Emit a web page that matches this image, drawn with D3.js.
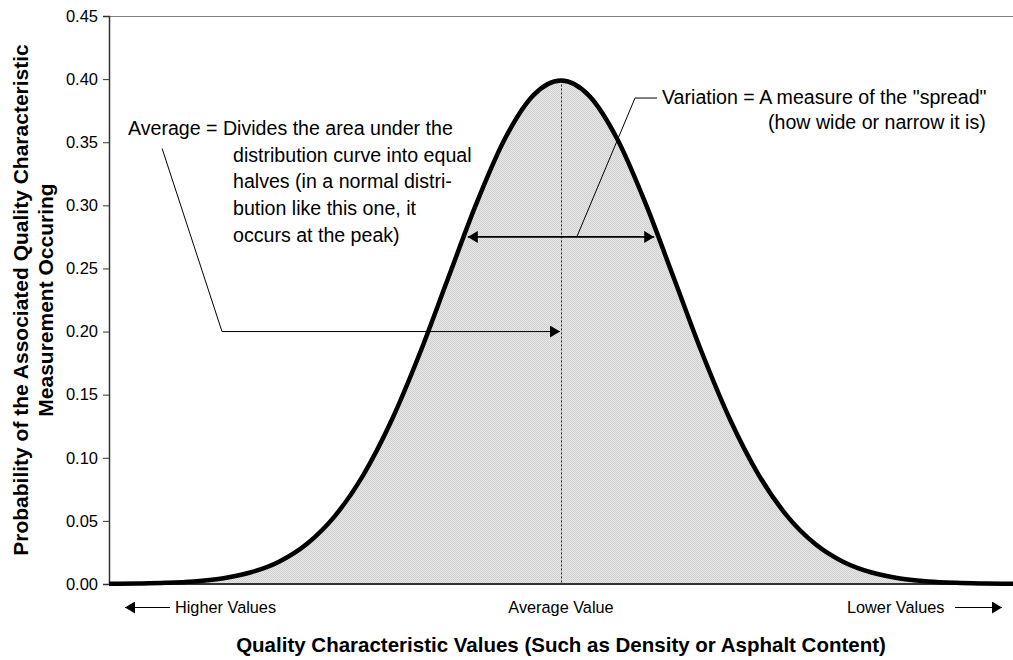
<!DOCTYPE html>
<html>
<head>
<meta charset="utf-8">
<script src="https://cdn.jsdelivr.net/npm/d3@7"></script>
<style>
  body { margin: 0; background: #fff; }
  svg { display: block; font-family: "Liberation Sans", Arial, sans-serif; }
</style>
</head>
<body>
<svg width="1013" height="660"></svg>
<script>
// curve, x in standard deviations from the average
var zPos = [-4, -3.75, -3.5, -3.25, -3, -2.75, -2.5, -2.25, -2, -1.75, -1.5, -1.25, -1, -0.75, -0.5, -0.25,
            0, 0.25, 0.5, 0.75, 1, 1.25, 1.5, 1.75, 2, 2.25, 2.5, 2.75, 3, 3.25, 3.5, 3.75, 4];
var density = [0.0001, 0.0004, 0.0009, 0.0020, 0.0044, 0.0091, 0.0175, 0.0317, 0.0540, 0.0863, 0.1295, 0.1826,
               0.2420, 0.3011, 0.3521, 0.3867, 0.3989, 0.3867, 0.3521, 0.3011, 0.2420, 0.1826, 0.1295, 0.0863,
               0.0540, 0.0317, 0.0175, 0.0091, 0.0044, 0.0020, 0.0009, 0.0004, 0.0001];
var yTicks = [0, 0.05, 0.10, 0.15, 0.20, 0.25, 0.30, 0.35, 0.40, 0.45];

var avgText = ["Average = Divides the area under the", "distribution curve into equal",
               "halves (in a normal distri-", "bution like this one, it", "occurs at the peak)"];
var varText = ["Variation = A measure of the \"spread\"", "(how wide or narrow it is)"];
var yTitle = ["Probability of the Associated Quality Characteristic", "Measurement Occuring"];
var xTitle = "Quality Characteristic Values (Such as Density or Asphalt Content)";
var bottomLabels = ["Higher Values", "Average Value", "Lower Values"];

var svg = d3.select("svg");
var plotL = 109, plotR = 1013, plotT = 16, plotB = 584;

var x = d3.scaleLinear().domain([-4, 4]).range([plotL, plotR]);
var y = d3.scaleLinear().domain([0, 0.45]).range([plotB, plotT]);

var pts = zPos.map((z, i) => ({z: z, p: density[i]}));

// checker fill like the original
var defs = svg.append("defs");
var pat = defs.append("pattern").attr("id", "dots").attr("width", 2).attr("height", 2)
    .attr("patternUnits", "userSpaceOnUse");
pat.append("rect").attr("width", 2).attr("height", 2).attr("fill", "#e8e8e8");
pat.append("rect").attr("width", 1).attr("height", 1).attr("fill", "#cfcfcf");
pat.append("rect").attr("x", 1).attr("y", 1).attr("width", 1).attr("height", 1).attr("fill", "#cfcfcf");

defs.append("marker").attr("id", "head")
    .attr("viewBox", "0 0 10 12").attr("refX", 10).attr("refY", 6)
    .attr("markerWidth", 11).attr("markerHeight", 12)
    .attr("markerUnits", "userSpaceOnUse").attr("orient", "auto-start-reverse")
  .append("path").attr("d", "M0,0 L10,6 L0,12 Z").attr("fill", "#000");

var area = d3.area().x(d => x(d.z)).y0(y(0)).y1(d => y(d.p)).curve(d3.curveMonotoneX);
var line = d3.line().x(d => x(d.z)).y(d => y(d.p)).curve(d3.curveMonotoneX);

svg.append("path").attr("d", area(pts)).attr("fill", "url(#dots)");

// top border
svg.append("line").attr("x1", plotL).attr("x2", plotR).attr("y1", plotT + 0.5).attr("y2", plotT + 0.5)
    .attr("stroke", "#808080").attr("stroke-width", 1);

// dotted average line
svg.append("line").attr("x1", x(0) + 0.5).attr("x2", x(0) + 0.5)
    .attr("y1", y(d3.max(density))).attr("y2", y(0))
    .attr("stroke", "#222").attr("stroke-width", 1).attr("stroke-dasharray", "2,2");

// axes
var yAxis = svg.append("g").attr("transform", "translate(" + plotL + ",0)")
    .call(d3.axisLeft(y).tickValues(yTicks).tickFormat(d3.format(".2f")).tickSize(6).tickPadding(5));
yAxis.select(".domain").attr("stroke", "#333").attr("stroke-width", 1.5);
yAxis.selectAll(".tick line").attr("stroke", "#333");
yAxis.selectAll("text").attr("font-size", 16.5).attr("fill", "#000").attr("font-family", "Liberation Sans, Arial");

svg.append("line").attr("x1", plotL).attr("x2", plotR).attr("y1", plotB).attr("y2", plotB)
    .attr("stroke", "#333").attr("stroke-width", 2);

svg.append("path").attr("d", line(pts)).attr("fill", "none")
    .attr("stroke", "#000").attr("stroke-width", 4.5);

// variation arrow
var vp = 0.275, vz = 0.86;
svg.append("line").attr("x1", x(-vz) + 4).attr("x2", x(vz) - 4).attr("y1", y(vp)).attr("y2", y(vp))
    .attr("stroke", "#000").attr("stroke-width", 1.8)
    .attr("marker-start", "url(#head)").attr("marker-end", "url(#head)");

// variation leader
svg.append("polyline")
    .attr("points", [[x(0.14), y(vp)], [x(0.655), y(0.385)], [x(0.85), y(0.385)]].map(p => p.join(",")).join(" "))
    .attr("fill", "none").attr("stroke", "#000").attr("stroke-width", 1);

// average leader with arrow
svg.append("polyline")
    .attr("points", [[x(-3.53), y(0.345)], [x(-3.0), y(0.20)], [x(0) - 1, y(0.20)]].map(p => p.join(",")).join(" "))
    .attr("fill", "none").attr("stroke", "#000").attr("stroke-width", 1)
    .attr("marker-end", "url(#head)");

// annotation text
var at = svg.append("text").attr("font-size", 19.6).attr("fill", "#000");
avgText.forEach((t, i) => {
  at.append("tspan").attr("x", i == 0 ? 128 : 233).attr("y", 135 + i * 26.7).text(t);
});
var vt = svg.append("text").attr("font-size", 19.6).attr("fill", "#000");
varText.forEach((t, i) => {
  vt.append("tspan").attr("x", i == 0 ? 662 : 768).attr("y", 104 + i * 25).text(t);
});

// bottom labels
var bl = svg.append("g").attr("font-size", 16.3).attr("fill", "#000");
bl.append("text").attr("x", 175).attr("y", 613).text(bottomLabels[0]);
bl.append("text").attr("x", x(0)).attr("y", 613).attr("text-anchor", "middle").text(bottomLabels[1]);
bl.append("text").attr("x", 847).attr("y", 613).text(bottomLabels[2]);
svg.append("line").attr("x1", 170).attr("x2", 125).attr("y1", 607.5).attr("y2", 607.5)
    .attr("stroke", "#000").attr("stroke-width", 1.2).attr("marker-end", "url(#head)");
svg.append("line").attr("x1", 955).attr("x2", 1002).attr("y1", 607.5).attr("y2", 607.5)
    .attr("stroke", "#000").attr("stroke-width", 1.2).attr("marker-end", "url(#head)");

// titles
svg.append("text").attr("x", x(0)).attr("y", 652).attr("text-anchor", "middle")
    .attr("font-size", 20.5).attr("font-weight", "bold").text(xTitle);
var yt = svg.append("text").attr("transform", "translate(0," + ((plotT + plotB) / 2) + ") rotate(-90)")
    .attr("text-anchor", "middle").attr("font-size", 21).attr("font-weight", "bold");
yTitle.forEach((t, i) => {
  yt.append("tspan").attr("x", 0).attr("y", 28 + i * 25).text(t);
});
</script>
</body>
</html>
